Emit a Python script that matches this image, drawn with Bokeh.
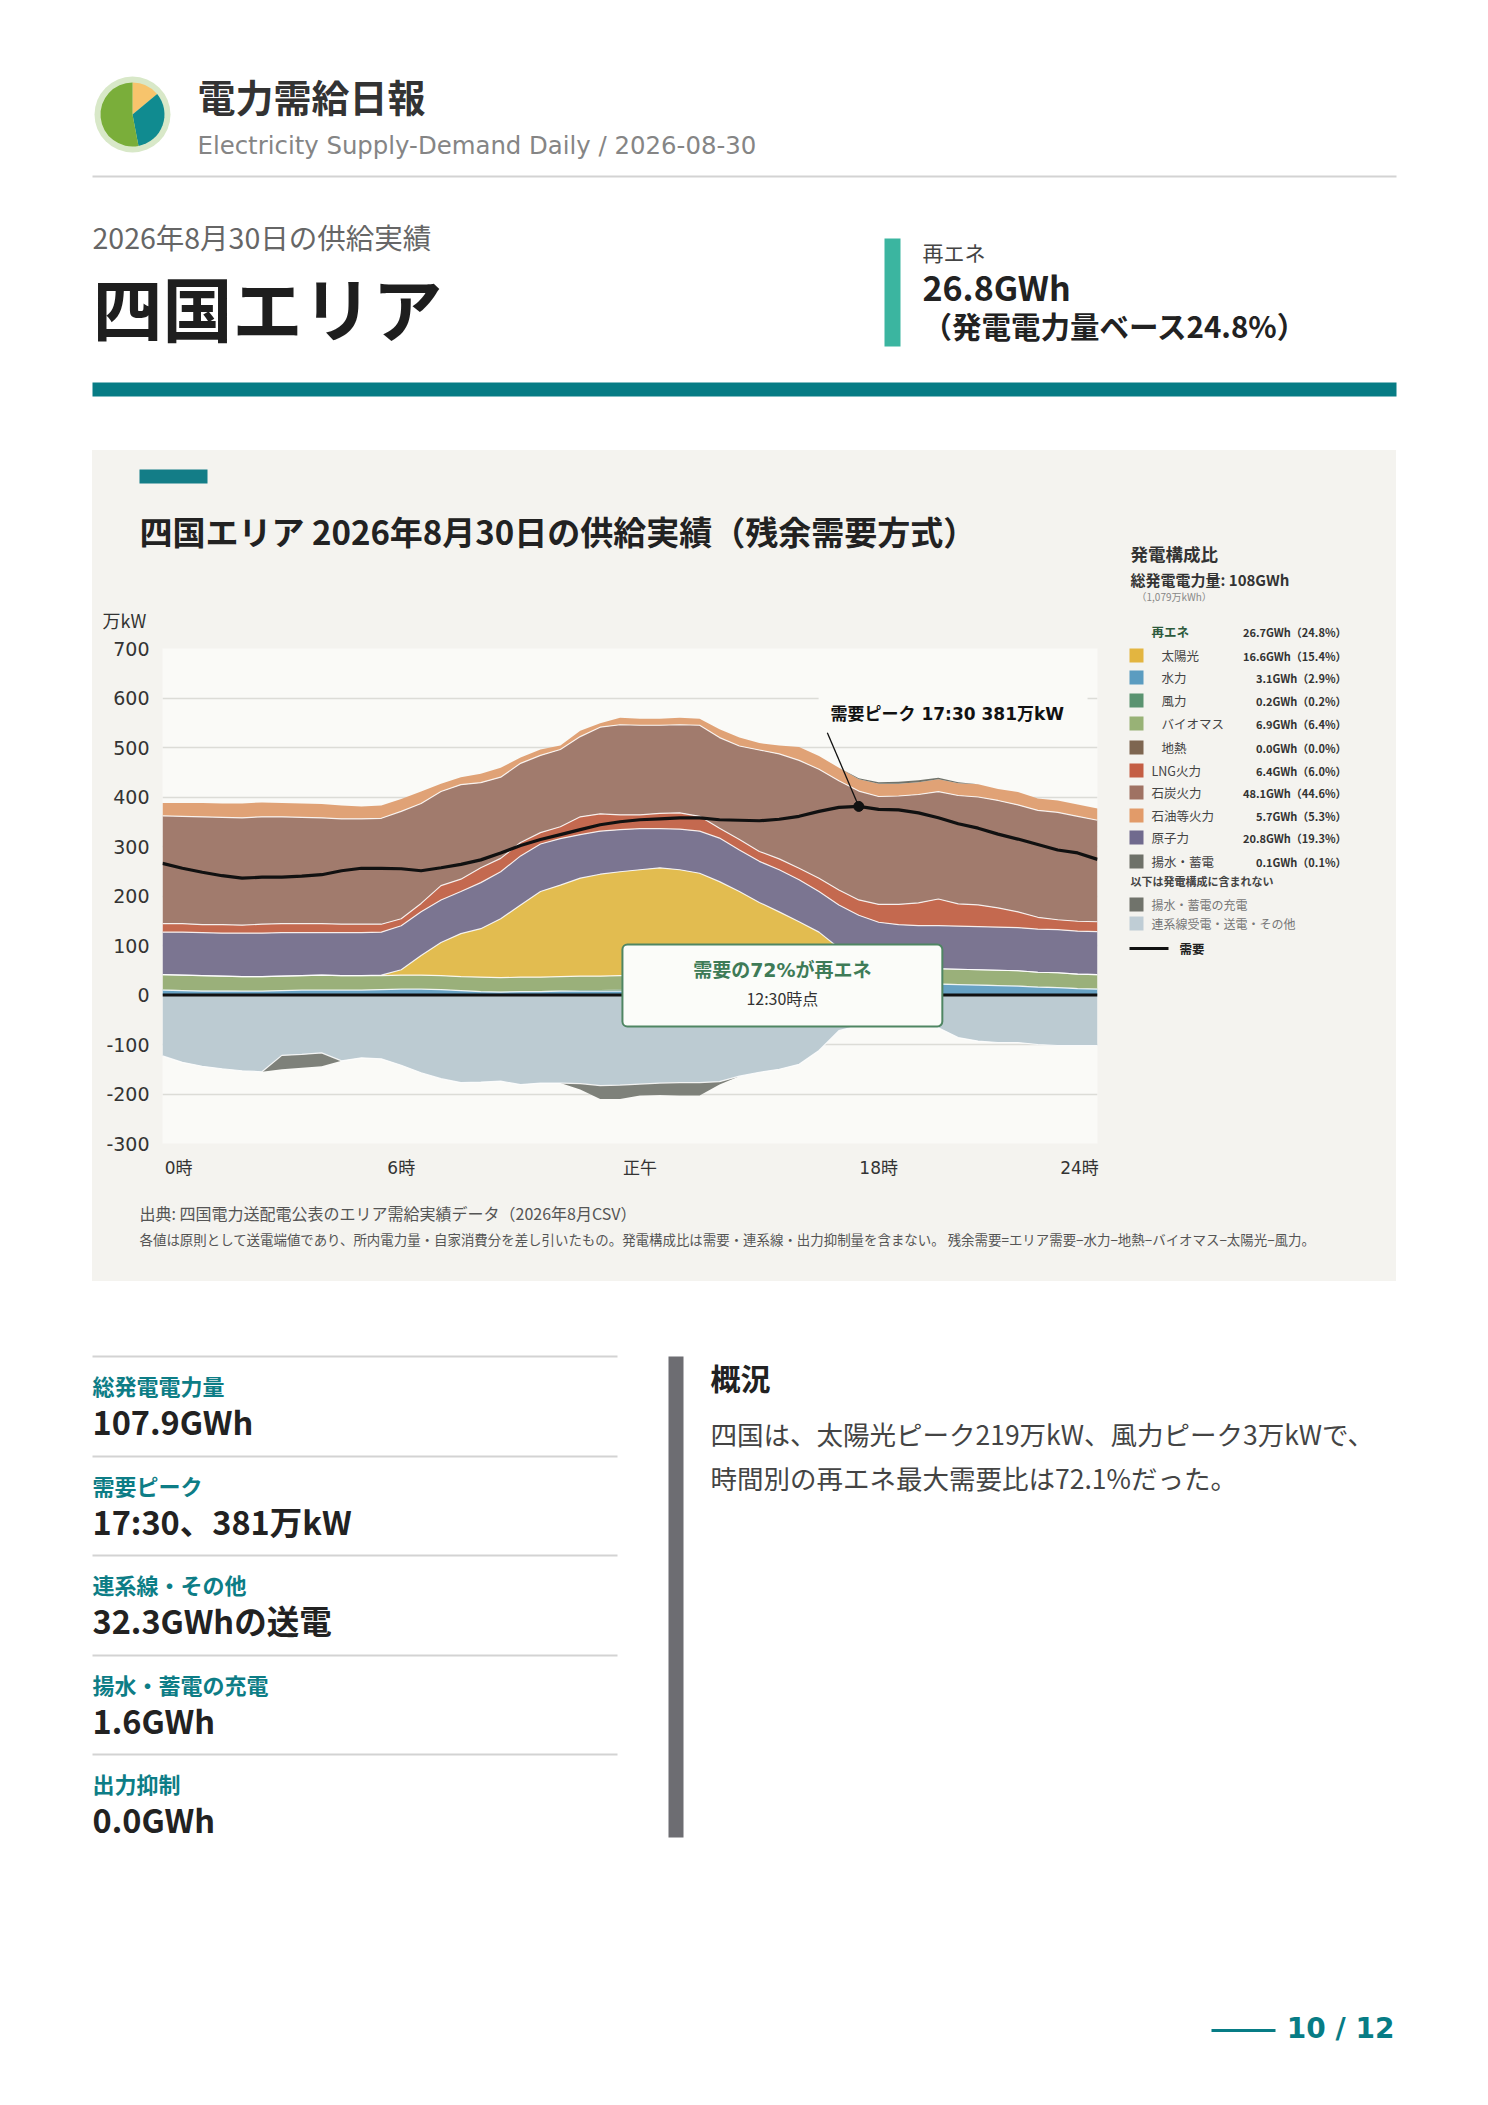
import numpy as np
from bokeh.plotting import figure
from bokeh.models import Range1d, FixedTicker, Span, BoxAnnotation, Label, ColumnDataSource, Spacer
from bokeh.layouts import column, row
from bokeh.core.properties import value
from bokeh.embed import file_html
from bokeh.resources import INLINE

FONT = "Noto Sans CJK JP"
NUMFONT = "DejaVu Sans, Noto Sans CJK JP"
PANEL = "#f4f3ef"
PLOT_BG = "#fafaf7"
TEAL = "#077c85"

# ---------------- data (万kW, 30-minute values) ----------------
TIMES = [f"{h:02d}:{m:02d}" for h in range(24) for m in (0, 30)]
HOURS = [int(s[:2]) + int(s[3:]) / 60 for s in TIMES]

HYDRO = [10, 9, 8, 8, 8, 8, 9, 10, 10, 10, 10, 11,
         12, 12, 11, 9, 7, 6, 7, 7, 8, 8, 8, 8,
         8, 8, 8, 8, 9, 10, 11, 12, 14, 16, 18, 20,
         21, 22, 22, 22, 21, 20, 19, 18, 16, 15, 13, 12]
WIND = [1, 1, 1, 1, 0, 0, 0, 0, 0, 0, 0, 0,
        0, 0, 0, 0, 1, 1, 1, 1, 1, 2, 2, 3,
        3, 2, 2, 2, 1, 1, 1, 1, 1, 1, 0, 0,
        0, 0, 0, 1, 1, 1, 1, 1, 1, 1, 1, 1]
BIOMASS = [30, 30, 30, 29, 29, 29, 29, 29, 30, 29, 29, 28,
           28, 28, 28, 28, 28, 28, 28, 28, 28, 28, 28, 28,
           28, 28, 28, 28, 28, 28, 28, 28, 29, 29, 29, 29,
           29, 29, 30, 30, 30, 30, 30, 30, 29, 29, 28, 28]
GEOTHERMAL = [0, 0, 0, 0, 0, 0, 0, 0, 0, 0, 0, 0,
              0, 0, 0, 0, 0, 0, 0, 0, 0, 0, 0, 0,
              0, 0, 0, 0, 0, 0, 0, 0, 0, 0, 0, 0,
              0, 0, 0, 0, 0, 0, 0, 0, 0, 0, 0, 0]
SOLAR = [0, 0, 0, 0, 0, 0, 0, 0, 0, 0, 0, 1,
         11, 40, 67, 87, 98, 119, 146, 173, 185, 198, 206, 210,
         214, 219, 215, 208, 191, 170, 147, 127, 104, 81, 48, 25,
         10, 4, 1, 0, 0, 0, 0, 0, 0, 0, 0, 0]
NUCLEAR = [86, 87, 87, 87, 88, 88, 88, 87, 86, 87, 87, 87,
           89, 88, 86, 85, 93, 95, 99, 96, 94, 88, 87, 85,
           83, 79, 82, 85, 88, 84, 83, 85, 85, 82, 87, 87,
           87, 87, 87, 87, 87, 87, 87, 87, 87, 87, 87, 87]
LNG = [17, 17, 16, 17, 16, 18, 18, 18, 18, 17, 17, 16,
       14, 17, 29, 25, 30, 27, 27, 23, 24, 36, 35, 30,
       28, 31, 33, 30, 20, 21, 20, 22, 23, 27, 30, 31,
       36, 41, 46, 54, 45, 44, 39, 32, 24, 20, 20, 20]
COAL = [218, 217, 218, 217, 217, 217, 216, 215, 214, 213, 213, 214,
        217, 202, 190, 191, 172, 164, 160, 156, 156, 162, 175, 182,
        181, 178, 178, 184, 183, 189, 205, 212, 218, 220, 221, 220,
        218, 219, 219, 217, 219, 218, 217, 216, 216, 217, 212, 205]
OIL = [26, 27, 28, 28, 29, 29, 28, 28, 28, 27, 25, 26,
       25, 24, 16, 15, 18, 19, 12, 12, 8, 12, 8, 14,
       13, 13, 14, 13, 17, 17, 14, 17, 27, 27, 26, 24,
       26, 25, 25, 25, 25, 26, 23, 26, 24, 24, 24, 24]
PUMPED_GEN = [0, 0, 0, 0, 0, 0, 0, 0, 0, 0, 0, 0,
              0, 0, 0, 0, 0, 0, 0, 0, 0, 0, 0, 0,
              0, 0, 0, 0, 0, 0, 0, 0, 0, 0, 0, 2,
              3, 4, 4, 3, 2, 0, 0, 0, 0, 0, 0, 0]
INTERCONNECT = [-123, -136, -144, -149, -153, -155, -122, -120, -117, -133, -127, -129,
                -142, -157, -169, -177, -176, -174, -181, -178, -178, -179, -183, -182,
                -180, -178, -177, -177, -175, -164, -156, -150, -140, -112, -72, -62,
                -58, -58, -62, -66, -86, -93, -96, -96, -100, -102, -102, -102]
CHARGE = [0, 0, 0, 0, 0, 0, -28, -27, -27, 0, 0, 0,
          0, 0, 0, 0, 0, 0, 0, 0, 0, -12, -27, -28,
          -23, -24, -26, -26, -6, 0, 0, 0, 0, 0, 0, 0,
          0, 0, 0, 0, 0, 0, 0, 0, 0, 0, 0, 0]
DEMAND = [266, 256, 248, 241, 236, 238, 238, 240, 243, 251, 256, 256,
          255, 251, 257, 264, 273, 287, 302, 314, 324, 334, 344, 350,
          354, 356, 358, 358, 354, 353, 352, 355, 361, 371, 379, 381,
          375, 374, 368, 358, 346, 337, 325, 315, 304, 293, 287, 274]

Y_TICKS = [-300, -200, -100, 0, 100, 200, 300, 400, 500, 600, 700]
X_TICKS = [0, 6, 12, 18, 23.5]
X_TICK_LABELS = ["0時", "6時", "正午", "18時", "24時"]

LEGEND_LABELS = ["太陽光", "水力", "風力", "バイオマス", "地熱", "LNG火力", "石炭火力", "石油等火力", "原子力", "揚水・蓄電"]
LEGEND_GWH = [16.6, 3.1, 0.2, 6.9, 0.0, 6.4, 48.1, 5.7, 20.8, 0.1]
LEGEND_PCT = [15.4, 2.9, 0.2, 6.4, 0.0, 6.0, 44.6, 5.3, 19.3, 0.1]
RE_GWH, RE_PCT = 26.7, 24.8
TOTAL_GWH = 108
TOTAL_KWH_TEXT = "（1,079万kWh）"

STAT_LABELS = ["総発電電力量", "需要ピーク", "連系線・その他", "揚水・蓄電の充電", "出力抑制"]
STAT_VALUES = ["107.9GWh", "17:30、381万kW", "32.3GWhの送電", "1.6GWh", "0.0GWh"]
LOGO_SHARES = [0.14, 0.33, 0.53]

# ---------------- styles ----------------
POS_KEYS = ["hydro", "wind", "biomass", "geo", "solar", "nuclear", "lng", "coal", "oil", "pumped"]
POS_COLORS = ["#68a2c4", "#5b9270", "#9ab07a", "#7e6651", "#e2bc50", "#7b7591",
              "#c4694f", "#a17b6d", "#e0a276", "#70736b"]
SWATCH = ["#e3b540", "#5b9cc0", "#5a9370", "#98b276", "#7e6651", "#c45e44",
          "#9f7263", "#e29b69", "#706a8e", "#6e7169"]
IC_COLOR = "#bccbd2"
CHARGE_COLOR = "#7e817a"


def page_fig(x0, x1, y0, y1, bg):
    f = figure(width=x1 - x0, height=y1 - y0, x_range=Range1d(x0, x1), y_range=Range1d(-y1, -y0),
               output_backend="svg", toolbar_location=None, min_border=0,
               x_axis_type=None, y_axis_type=None, background_fill_color=bg,
               border_fill_color=bg, outline_line_color=None)
    return f


def T(f, x, y, s, size, color="#333333", bold=False, align="left", font=FONT):
    f.text(x=[x], y=[-y], text=[s], text_font=value(font), text_font_size=f"{size}px",
           text_font_style="bold" if bold else "normal", text_color=color,
           text_align=align, text_baseline="middle")


def R(f, x0, y0, x1, y1, color):
    f.quad(left=[x0], right=[x1], top=[-y0], bottom=[-y1], fill_color=color, line_color=None)


def HL(f, x0, x1, y, color, w):
    f.line(x=[x0, x1], y=[-y, -y], line_color=color, line_width=w)


# ---------------- header ----------------
hdr = page_fig(0, 1472, 0, 450, "white")
hdr.circle(x=[132], y=[-114], radius=38, fill_color="#d8e8c8", line_color=None)
cum = np.concatenate([[0], np.cumsum(LOGO_SHARES)])
for i, c in enumerate(["#f7c46c", "#108b90", "#7aae3a"]):
    hdr.wedge(x=[132], y=[-114], radius=32, start_angle=np.pi / 2 - 2 * np.pi * cum[i],
              end_angle=np.pi / 2 - 2 * np.pi * cum[i + 1], direction="clock",
              fill_color=c, line_color=None)
T(hdr, 197, 95, "電力需給日報", 38, "#333333", bold=True)
T(hdr, 197, 145, "Electricity Supply-Demand Daily / 2026-08-30", 24.4, "#858585", font="DejaVu Sans")
HL(hdr, 92, 1396, 176, "#d3d3d3", 2)
T(hdr, 92, 236, "2026年8月30日の供給実績", 28.5, "#666666")
T(hdr, 92, 305.5, "四国エリア", 70, "#1e1e1e", bold=True)
R(hdr, 884, 238, 900, 346, "#3bb5a0")
T(hdr, 922, 251, "再エネ", 21, "#444444")
T(hdr, 922, 285.5, "26.8GWh", 34, "#222222", bold=True)
T(hdr, 922, 324, "（発電電力量ベース24.8%）", 29.5, "#222222", bold=True)
R(hdr, 92, 382, 1396, 396, TEAL)

# ---------------- chart title area ----------------
tf = page_fig(92, 1120, 450, 636, PANEL)
R(tf, 139, 469, 207, 483, "#137d87")
T(tf, 139, 530, "四国エリア 2026年8月30日の供給実績（残余需要方式）", 33, "#222222", bold=True)
T(tf, 102, 619, "万kW", 18, "#333333")

# ---------------- chart ----------------
cf = figure(width=1028, height=554, x_range=Range1d(0, 23.5), y_range=Range1d(-300, 700),
            output_backend="svg", toolbar_location=None, background_fill_color=PLOT_BG,
            border_fill_color=PANEL, outline_line_color=None,
            min_border_left=70, min_border_right=23, min_border_top=12, min_border_bottom=47)
src = ColumnDataSource(dict(x=HOURS, hydro=HYDRO, wind=WIND, biomass=BIOMASS, geo=GEOTHERMAL,
                            solar=SOLAR, nuclear=NUCLEAR, lng=LNG, coal=COAL, oil=OIL,
                            pumped=PUMPED_GEN, ic=INTERCONNECT, charge=CHARGE, demand=DEMAND))
cf.varea_stack(stackers=POS_KEYS, x="x", color=POS_COLORS, source=src)
cf.varea_stack(stackers=["ic", "charge"], x="x", color=[IC_COLOR, CHARGE_COLOR], source=src)

stack = np.cumsum(np.array([src.data[k] for k in POS_KEYS], dtype=float), axis=0)
for k in [0, 3, 4, 5, 6, 7]:
    cf.line(HOURS, stack[k], line_color="white", line_width=1.2, line_alpha=0.85)
cf.line(HOURS, INTERCONNECT, line_color="white", line_width=1.2, line_alpha=0.85)

pk = int(np.argmax(DEMAND))
cf.quad(left=[16.49], right=[23.25], top=[615], bottom=[519], fill_color=PLOT_BG, line_color=None)
cf.segment(x0=[16.71], y0=[530], x1=[HOURS[pk]], y1=[DEMAND[pk]], line_color="#111111", line_width=1.3)
cf.line("x", "demand", source=src, line_color="#111111", line_width=3.2)
cf.scatter([HOURS[pk]], [DEMAND[pk]], size=10, color="#111111")

cf.add_layout(Span(location=0, dimension="width", line_color="#111111", line_width=3))
cf.add_layout(Label(x=16.79, y=567, text=f"需要ピーク {TIMES[pk]} {DEMAND[pk]}万kW",
                    text_font=NUMFONT, text_font_size="17px", text_font_style="bold",
                    text_color="#111111", text_align="left", text_baseline="middle"))
cf.add_layout(BoxAnnotation(left=11.56, right=19.60, top=102, bottom=-63.5, fill_color="#fbfcf9",
                            fill_alpha=1, line_color="#4f8663", line_alpha=1, line_width=2,
                            border_radius=5))
cf.add_layout(Label(x=15.58, y=49.5, text="需要の72%が再エネ", text_font=NUMFONT, text_font_size="19px",
                    text_font_style="bold", text_color="#3e7b57", text_align="center",
                    text_baseline="middle"))
cf.add_layout(Label(x=15.58, y=-7, text="12:30時点", text_font=FONT, text_font_size="16px",
                    text_color="#333333", text_align="center", text_baseline="middle"))

cf.yaxis.ticker = FixedTicker(ticks=Y_TICKS)
cf.yaxis.major_label_overrides = {v: str(v) for v in Y_TICKS}
cf.xaxis.ticker = FixedTicker(ticks=X_TICKS)
ov = dict(zip(X_TICKS, X_TICK_LABELS))
ov[X_TICKS[0]] = "\u2007\u2007\u2007" + ov[X_TICKS[0]]
ov[X_TICKS[-1]] = ov[X_TICKS[-1]] + "\u2007\u2007"
cf.xaxis.major_label_overrides = ov
for ax, fs in ((cf.xaxis, "17px"), (cf.yaxis, "19px")):
    ax.axis_line_color = None
    ax.major_tick_line_color = None
    ax.minor_tick_line_color = None
    ax.major_tick_out = 0
    ax.major_tick_in = 0
    ax.minor_tick_out = 0
    ax.major_label_text_font = NUMFONT
    ax.major_label_text_font_size = fs
    ax.major_label_text_color = "#333333"
cf.yaxis.major_label_standoff = 13
cf.xaxis.major_label_standoff = 14
cf.xgrid.visible = False
cf.ygrid.grid_line_color = "#dcdcd7"
cf.ygrid.grid_line_width = 1.5

# ---------------- legend ----------------
lf = page_fig(1120, 1396, 450, 1190, PANEL)
T(lf, 1130, 553, "発電構成比", 17.5, "#333333", bold=True)
T(lf, 1130, 579, f"総発電電力量: {TOTAL_GWH}GWh", 15, "#333333", bold=True)
T(lf, 1136, 596, TOTAL_KWH_TEXT, 10, "#888888")
T(lf, 1151, 631, "再エネ", 12.5, "#2d5a3c", bold=True)
T(lf, 1346, 631, f"{RE_GWH:.1f}GWh（{RE_PCT:.1f}%）", 11, "#333333", bold=True, align="right")
ROW_Y = [655, 677, 700, 723, 747, 770, 792, 815, 837, 861]
for i, lab in enumerate(LEGEND_LABELS):
    y = ROW_Y[i]
    R(lf, 1129, y - 7, 1143, y + 7, SWATCH[i])
    T(lf, 1161 if i < 5 else 1151, y, lab, 12.5, "#444444")
    T(lf, 1346, y, f"{LEGEND_GWH[i]:.1f}GWh（{LEGEND_PCT[i]:.1f}%）", 11, "#333333", bold=True, align="right")
T(lf, 1130, 880, "以下は発電構成に含まれない", 11, "#444444", bold=True)
R(lf, 1129, 897, 1143, 911, "#70736b")
T(lf, 1151, 904, "揚水・蓄電の充電", 12, "#777777")
R(lf, 1129, 916, 1143, 930, "#bfcdd5")
T(lf, 1151, 923, "連系線受電・送電・その他", 12, "#777777")
HL(lf, 1129, 1168, 948, "#111111", 3)
T(lf, 1179, 948, "需要", 12.5, "#222222", bold=True)

# ---------------- footnotes ----------------
ff = page_fig(92, 1396, 1190, 1281, PANEL)
T(ff, 139, 1212, "出典: 四国電力送配電公表のエリア需給実績データ（2026年8月CSV）", 16, "#555555")
T(ff, 139, 1238, "各値は原則として送電端値であり、所内電力量・自家消費分を差し引いたもの。発電構成比は需要・連系線・出力抑制量を含まない。 残余需要=エリア需要−水力−地熱−バイオマス−太陽光−風力。", 13.45, "#555555")

# ---------------- bottom ----------------
bf = page_fig(0, 1472, 1281, 2080, "white")
LINE_Y = [1356, 1456, 1555, 1655, 1754]
for i, y in enumerate(LINE_Y):
    HL(bf, 92, 617, y, "#d3d3d3", 2)
    T(bf, 92, y + 28, STAT_LABELS[i], 22, "#0d7d86", bold=True)
    T(bf, 92, y + 64, STAT_VALUES[i], 32.5, "#222222", bold=True)
R(bf, 668, 1356, 683, 1837, "#6d6d72")
T(bf, 710, 1376, "概況", 30, "#222222", bold=True)
T(bf, 710, 1433, "四国は、太陽光ピーク219万kW、風力ピーク3万kWで、", 26.5, "#444444")
T(bf, 710, 1477, "時間別の再エネ最大需要比は72.1%だった。", 26.5, "#444444")
HL(bf, 1211, 1275, 2030, TEAL, 3)
T(bf, 1394, 2028, "10 / 12", 28, TEAL, bold=True, align="right", font="DejaVu Sans")

PANEL_H = 1281 - 450
upper = row(column(tf, row(cf)), lf)
panel = column(upper, ff, styles={"background-color": PANEL})
mid = row(Spacer(width=92, height=PANEL_H), panel, Spacer(width=76, height=PANEL_H))
root = column(hdr, mid, bf)

open("out.html", "w").write(file_html(root, INLINE))
